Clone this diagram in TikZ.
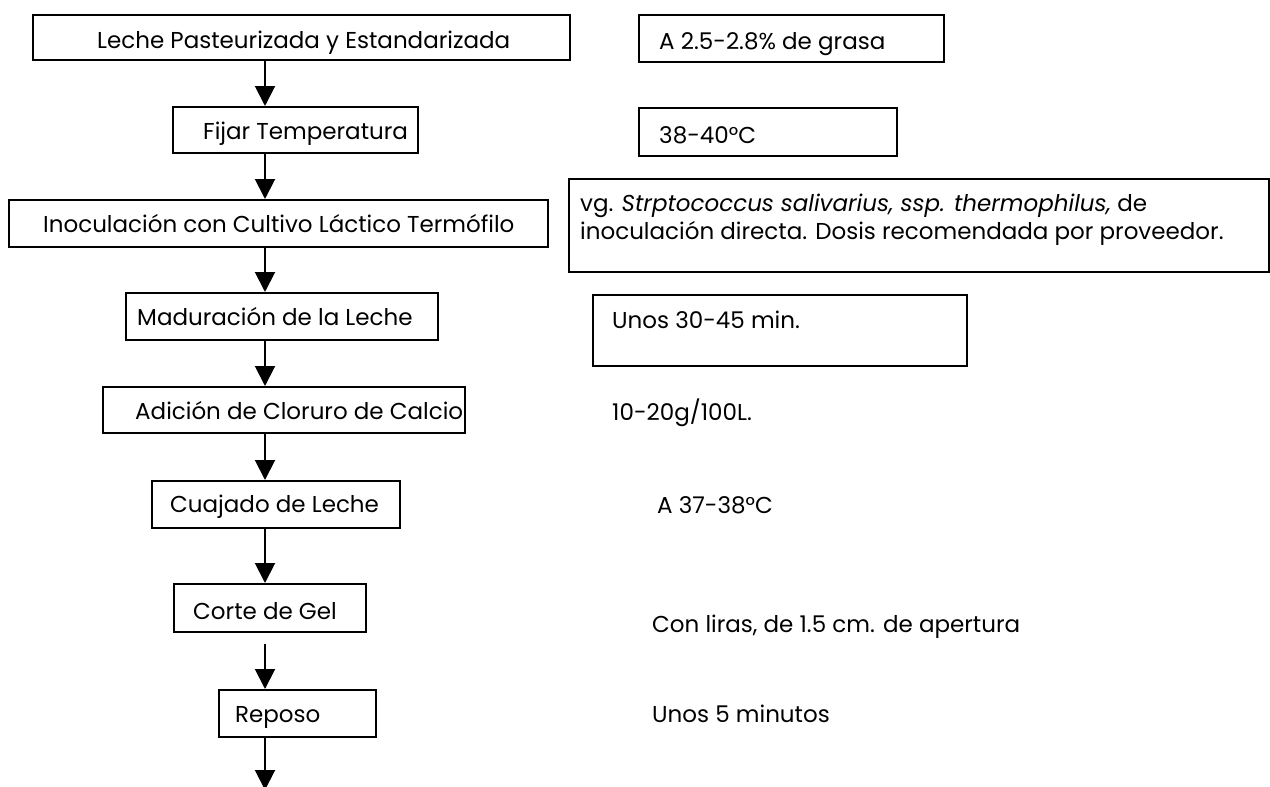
\documentclass[tikz,border=0pt]{standalone}
\usepackage{fontspec}
\setmainfont{Poppins}
\usetikzlibrary{arrows.meta}
\begin{document}
\begin{tikzpicture}[x=1pt,y=-1pt,
  box/.style={draw, line width=2pt, inner sep=0pt, anchor=north west},
  txt/.style={anchor=base west, inner sep=0pt, font=\fontsize{23}{27}\selectfont},
  arr/.style={line width=2pt, -{Triangle[width=20pt,length=20pt]}}]
\useasboundingbox (0,0) rectangle (1270,787);
% flow boxes
\node[box, minimum width=537pt, minimum height=45pt] (b1) at (32,14) {};
\node[box, minimum width=245pt, minimum height=46pt] (b2) at (172,106) {};
\node[box, minimum width=539pt, minimum height=47pt] (b3) at (8,199) {};
\node[box, minimum width=312pt, minimum height=47pt] (b4) at (125,292) {};
\node[box, minimum width=362pt, minimum height=46pt] (b5) at (102,386) {};
\node[box, minimum width=248pt, minimum height=47pt] (b6) at (151,480) {};
\node[box, minimum width=192pt, minimum height=48pt] (b7) at (173,583) {};
\node[box, minimum width=157pt, minimum height=47pt] (b8) at (218,689) {};
% note boxes
\node[box, minimum width=305pt, minimum height=47pt] (r1) at (638,14) {};
\node[box, minimum width=258pt, minimum height=48pt] (r2) at (638,107) {};
\node[box, minimum width=700pt, minimum height=93pt] (r3) at (568,178) {};
\node[box, minimum width=374pt, minimum height=71pt] (r4) at (592,294) {};
% flow texts
\node[txt] (t1) at (97,48) {Leche Pasteurizada y Estandarizada};
\node[txt] (t2) at (203,139) {Fijar Temperatura};
\node[txt] (t3) at (43,232) {Inoculación con Cultivo Láctico Termófilo};
\node[txt] (t4) at (137,325) {Maduración de la Leche};
\begin{scope}
  \clip (b5.south west) rectangle (b5.north east);
  \node[txt] (t5) at (135,419) {Adición de Cloruro de Calcio};
\end{scope}
\node[txt] (t6) at (170,512) {Cuajado de Leche};
\node[txt] (t7) at (193,619) {Corte de Gel};
\node[txt] (t8) at (235,722) {Reposo};
% notes
\node[txt] (n1) at (659,49) {A 2.5-2.8\% de grasa};
\node[txt] (n2) at (659,143) {38-40°C};
\node[txt] (n3a) at (580,211) {vg. \textit{Strptococcus salivarius, ssp. thermophilus,} de};
\node[txt] (n3b) at (580,239) {inoculación directa. Dosis recomendada por proveedor.};
\node[txt] (n4) at (612,328) {Unos 30-45 min.};
\node[txt] (n5) at (612,420) {10-20g/100L.};
\node[txt] (n6) at (657,513) {A 37-38°C};
\node[txt] (n7) at (652,632) {Con liras, de 1.5 cm. de apertura};
\node[txt] (n8) at (652,722) {Unos 5 minutos};
% connectors
\coordinate (ax) at (265,0);
\coordinate (end) at (265,790);
\draw[arr] (b1.south -| ax) -- (b2.north -| ax);
\draw[arr] (b2.south -| ax) -- (b3.north -| ax);
\draw[arr] (b3.south -| ax) -- (b4.north -| ax);
\draw[arr] (b4.south -| ax) -- (b5.north -| ax);
\draw[arr] (b5.south -| ax) -- (b6.north -| ax);
\draw[arr] (b6.south -| ax) -- (b7.north -| ax);
\draw[arr, shorten <=11pt] (b7.south -| ax) -- (b8.north -| ax);
\draw[arr] (b8.south -| ax) -- (end);
\end{tikzpicture}
\end{document}
